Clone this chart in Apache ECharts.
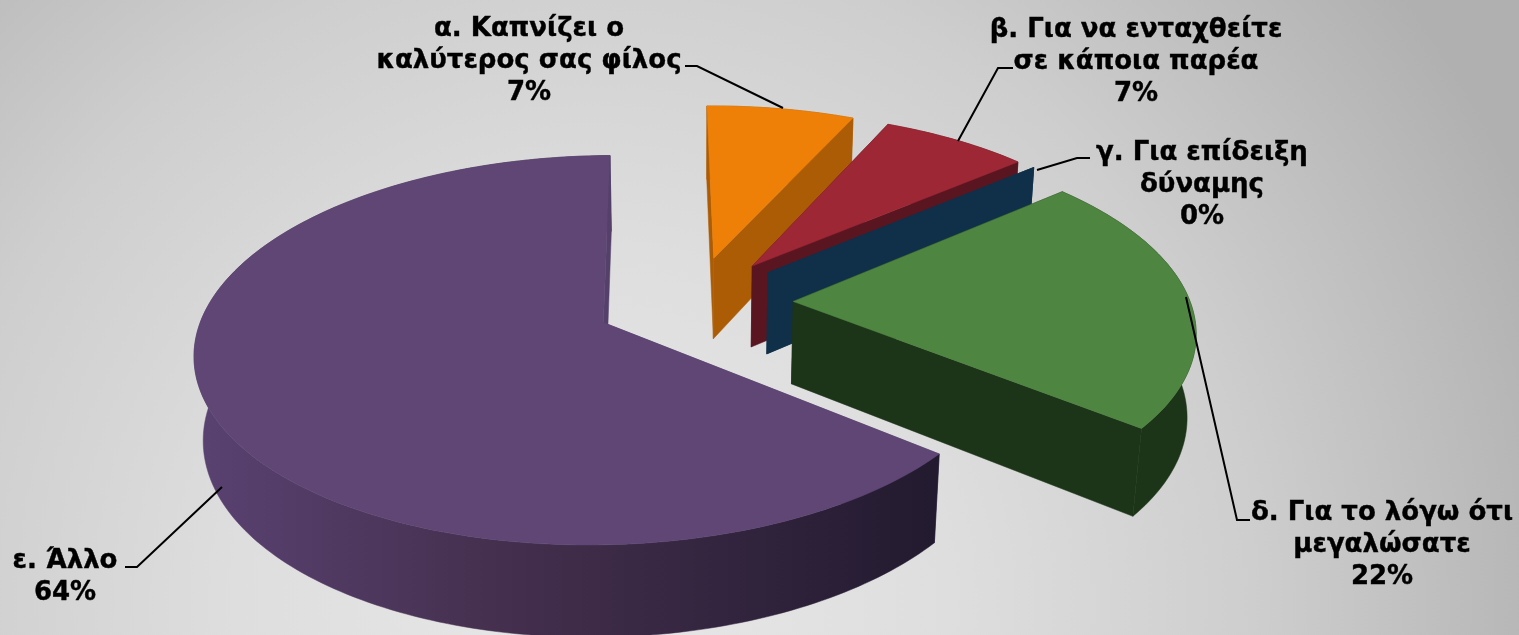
<!DOCTYPE html>
<html>
<head>
<meta charset="utf-8">
<title>3D pie</title>
<script src="https://cdn.jsdelivr.net/npm/echarts@6/dist/echarts.min.js"></script>
<style>
    html, body { margin: 0; padding: 0; }
    #chart { width: 1519px; height: 635px; }
</style>
</head>
<body>
<div id="chart"></div>
<script>
// data
const categories = [
    'α. Καπνίζει ο\nκαλύτερος σας φίλος',
    'β. Για να ενταχθείτε\nσε κάποια παρέα',
    'γ. Για επίδειξη\nδύναμης',
    'δ. Για το λόγω ότι\nμεγαλώσατε',
    'ε. Άλλο'
];
const percentLabels = ['7%', '7%', '0%', '22%', '64%'];
const sliceValues = [7, 7, 0, 22, 64];

// colours
const topColors = ['#ee8007', '#9e2735', '#10304a', '#4e8540', '#5f4675'];
const wallColors = ['#ab5c05', '#5a1620', '#10304a', '#1c3519', '#3e2b50'];

// where the labels and their leader lines go
const labelPos = [[529, 13], [1136, 14], [1202, 137], [1382, 497], [65, 545]];
const leaderLines = [
    [[685, 66], [697, 66], [783, 108]],
    [[1013, 68], [998, 68], [958, 141]],
    [[1090, 158], [1077, 158], [1037, 170]],
    [[1250, 520], [1237, 520], [1186, 297]],
    [[125, 567], [137, 567], [222, 487]]
];

// 3D look
const cx = 694, cy = 302;
const Rx = 397, Ry = 185;
const persp = 0.14, perspDepth = 0.018;
const explode = 0.25;
const depth = 84;
const firstAngle = -0.75 / 180 * Math.PI;
const total = sliceValues.reduce((a, b) => a + b, 0);

function project(X, Y, z) {
    const w = 1 - persp * Y + perspDepth * z / depth;
    return [cx + Rx * X / w, cy + (Ry * Y + z) / w];
}

function renderSlice(params, api) {
    const i = params.dataIndex;
    let before = 0;
    for (let n = 0; n < i; n++) before += sliceValues[n];
    const a0 = firstAngle + before / total * Math.PI * 2;
    const a1 = firstAngle + (before + api.value(0)) / total * Math.PI * 2;
    const mid = (a0 + a1) / 2;
    const ox = explode * Math.sin(mid), oy = -explode * Math.cos(mid);

    const rim = (a, z) => project(ox + Math.sin(a), oy - Math.cos(a), z);
    const tip = z => project(ox, oy, z);

    const steps = Math.max(4, Math.ceil((a1 - a0) / 0.02));
    const topArc = [], lowArc = [];
    for (let s = 0; s <= steps; s++) {
        const a = a0 + (a1 - a0) * s / steps;
        topArc.push(rim(a, 0));
        lowArc.push(rim(a, depth));
    }

    // 紫色那塊的外牆有左亮右暗的漸層
    const wallFill = i === 4
        ? new echarts.graphic.LinearGradient(190, 0, 940, 0, [
            { offset: 0, color: '#5a4272' },
            { offset: 0.4, color: '#45304f' },
            { offset: 1, color: '#221a2f' }
        ], true)
        : wallColors[i];
    const flatFill = i === 4 ? '#54406b' : wallColors[i];

    const poly = (points, fill) => ({
        type: 'polygon',
        shape: { points: points },
        style: { fill: fill, stroke: fill, lineWidth: 0.5 }
    });

    const children = [
        poly([tip(0), rim(a0, 0), rim(a0, depth), tip(depth)], flatFill),
        poly(topArc.concat(lowArc.slice().reverse()), wallFill),
        poly([tip(0), rim(a1, 0), rim(a1, depth), tip(depth)], flatFill),
        poly([tip(0)].concat(topArc), topColors[i]),
        {
            type: 'polyline',
            shape: { points: leaderLines[i] },
            style: { fill: 'none', stroke: '#000', lineWidth: 2 }
        },
        {
            type: 'text',
            style: {
                text: categories[i] + '\n' + percentLabels[i],
                x: labelPos[i][0],
                y: labelPos[i][1],
                align: 'center',
                verticalAlign: 'top',
                fill: '#000',
                stroke: '#000',
                lineWidth: 0.4,
                font: 'bold 26px "DejaVu Sans", Verdana, sans-serif',
                lineHeight: 32
            }
        }
    ];
    return { type: 'group', children: children };
}

const chart = echarts.init(document.getElementById('chart'));
chart.setOption({
    animation: false,
    backgroundColor: new echarts.graphic.RadialGradient(0.39, 0.95, 1.6, [
        { offset: 0, color: '#e8e8e8' },
        { offset: 0.35, color: '#dedede' },
        { offset: 0.65, color: '#cecece' },
        { offset: 1, color: '#b0b0b0' }
    ]),
    series: [{
        type: 'custom',
        coordinateSystem: 'none',
        renderItem: renderSlice,
        data: sliceValues.map((v, i) => ({ name: categories[i], value: [v] }))
    }]
});
</script>
</body>
</html>
